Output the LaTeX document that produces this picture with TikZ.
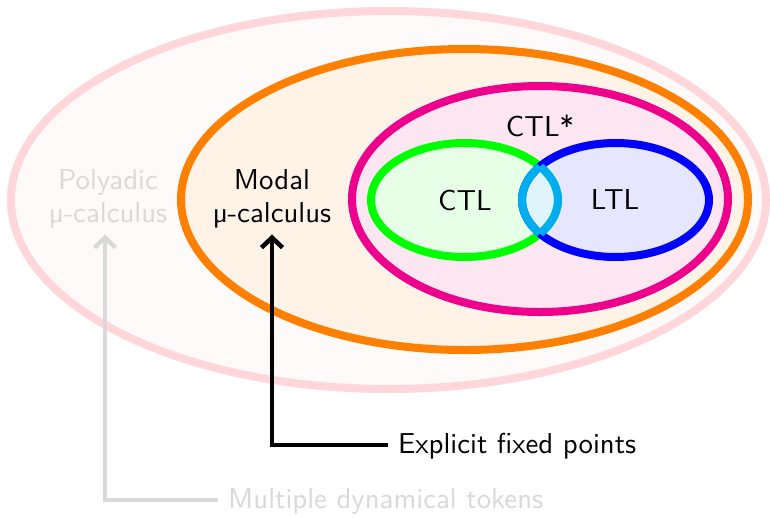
\documentclass[tikz,border=0pt]{standalone}
\usepackage{fontspec}
\newfontfamily\labelfont{lmsans10-regular}[Extension=.otf]
\usetikzlibrary{arrows.meta}
\definecolor{outerline}{HTML}{FFD7DA}
\definecolor{outerfill}{HTML}{FFFAFA}
\definecolor{orangeline}{HTML}{FF8000}
\definecolor{orangefill}{HTML}{FFF2E6}
\definecolor{magline}{HTML}{EC008C}
\definecolor{magfill}{HTML}{FCE6F1}
\definecolor{greenline}{HTML}{00FF00}
\definecolor{greenfill}{HTML}{E6FFE6}
\definecolor{blueline}{HTML}{0000FF}
\definecolor{bluefill}{HTML}{E6E6FF}
\definecolor{lensline}{HTML}{00AEEF}
\definecolor{lensfill}{HTML}{E0F4FC}
\definecolor{faded}{HTML}{D9D9D9}
\begin{document}
\begin{tikzpicture}[x=1pt,y=-1pt,
  every node/.style={font=\labelfont\fontsize{28.8}{33}\selectfont, inner sep=0pt},
  region/.style={line width=8pt},
  lbl/.style={align=center},
  pointer/.style={line width=4.5pt, -{Straight Barb[length=10pt,width=21pt,line width=4.5pt]}}
]
\useasboundingbox (0,0) rectangle (770,517);

% nested classes of logics
\draw[region, draw=outerline, fill=outerfill] (388.5,200) ellipse [x radius=377.5, y radius=189];
\draw[region, draw=orangeline, fill=orangefill] (464.5,199.5) ellipse [x radius=283.5, y radius=150.5];
\draw[region, draw=magline, fill=magfill] (540,199) ellipse [x radius=188, y radius=113];

% CTL and LTL with their common part
\def\ctlpath{(464.5,200) ellipse [x radius=93.5, y radius=57]}
\def\ltlpath{(615.5,200) ellipse [x radius=93.5, y radius=57]}
\fill[greenfill] \ctlpath;
\fill[bluefill] \ltlpath;
\begin{scope}
  \clip \ctlpath;
  \fill[lensfill] \ltlpath;
\end{scope}
\draw[region, draw=greenline] \ctlpath;
\draw[region, draw=blueline] \ltlpath;
\begin{scope}
  \clip \ctlpath;
  \draw[region, draw=lensline] \ltlpath;
\end{scope}
\begin{scope}
  \clip \ltlpath;
  \draw[region, draw=lensline] \ctlpath;
\end{scope}

% labels
\node (ctlstar) at (540,126) {CTL*};
\node (ctl) at (465,200) {CTL};
\node (ltl) at (615,200) {LTL};
\node[lbl] (modal) at (272,199) {Modal\\µ-calculus};
\node[lbl, text=faded] (poly) at (108,199) {Polyadic\\µ-calculus};

\node[anchor=base west] (efp) at (398,453) {Explicit fixed points};
\node[anchor=base west, text=faded] (mdt) at (228,508) {Multiple dynamical tokens};

% arrows
\coordinate (efpend) at (388,445);
\coordinate (mdtend) at (218,500);
\draw[pointer, black] (efpend) -| ([yshift=-6pt]modal.south);
\draw[pointer, faded] (mdtend) -| ([xshift=-3pt,yshift=-6pt]poly.south);
\end{tikzpicture}
\end{document}
